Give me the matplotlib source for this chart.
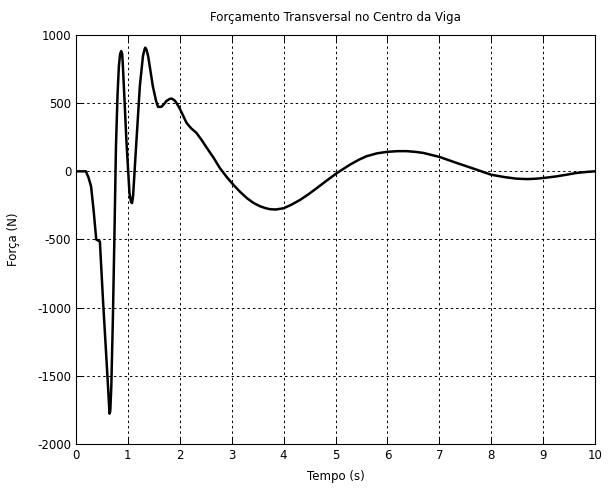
import matplotlib
matplotlib.use("Agg")
import matplotlib.pyplot as plt

# time (s) and force (N)
tempo = [0.0, 0.19, 0.24, 0.29, 0.34, 0.39, 0.46, 0.52, 0.58, 0.62, 0.645, 0.66,
         0.68, 0.71, 0.74, 0.77, 0.80, 0.826, 0.85, 0.87, 0.89, 0.90, 0.94, 0.97,
         1.03, 1.06, 1.08, 1.10, 1.15, 1.23, 1.29, 1.32, 1.335, 1.36, 1.39, 1.48,
         1.54, 1.58, 1.645, 1.70, 1.74, 1.80, 1.84, 1.90, 1.935, 2.0, 2.13, 2.22,
         2.32, 2.42, 2.52, 2.65, 2.77, 2.9, 3.03, 3.16, 3.29, 3.42, 3.55, 3.65,
         3.74, 3.85, 4.0, 4.15, 4.32, 4.48, 4.64, 4.83, 5.03, 5.28, 5.45, 5.6,
         5.8, 6.0, 6.2, 6.37, 6.53, 6.69, 7.0, 7.33, 7.72, 8.0, 8.25, 8.49,
         8.7, 8.87, 9.05, 9.26, 9.45, 9.64, 9.82, 10.0]
forca = [0, 0, -45, -110, -290, -500, -515, -945, -1335, -1600, -1777, -1760,
         -1580, -1090, -478, 184, 560, 772, 860, 882, 860, 797, 480, 233,
         -160, -225, -233, -180, 135, 625, 845, 895, 907, 890, 845, 625,
         520, 473, 473, 495, 515, 530, 534, 520, 502, 460, 355, 315,
         282, 230, 172, 100, 25, -40, -98, -150, -196, -232, -257, -270,
         -278, -280, -271, -245, -209, -168, -123, -68, -12, 49, 85, 111,
         132, 143, 148, 148, 143, 135, 106, 62, 12, -25, -42, -54,
         -57, -54, -47, -37, -25, -12, -5, 0]

x_ticks = list(range(0, 11))
y_ticks = [-2000, -1500, -1000, -500, 0, 500, 1000]

plt.rcParams['font.family'] = ['DejaVu Sans']
plt.rcParams['font.size'] = 8.5
plt.rcParams['axes.unicode_minus'] = False

fig = plt.figure(figsize=(6.11, 4.90), dpi=100)
ax = fig.add_axes([0.1244, 0.0939, 0.8494, 0.8347])

ax.plot(tempo, forca, color="black", linewidth=1.8)

ax.set_xlim(0, 10)
ax.set_ylim(-2000, 1000)
ax.set_xticks(x_ticks)
ax.set_yticks(y_ticks)
ax.grid(True, color="black", linestyle=(0, (2.5, 3)), linewidth=0.7)
ax.tick_params(direction="in", top=True, right=True, length=4, width=0.7)
for s in ax.spines.values():
    s.set_linewidth(0.8)

ax.set_title("Forçamento Transversal no Centro da Viga", fontsize=8.5, pad=10)
ax.set_xlabel("Tempo (s)", labelpad=6)
ax.set_ylabel("Força (N)", labelpad=12)

fig.savefig("out.png", dpi=100)
